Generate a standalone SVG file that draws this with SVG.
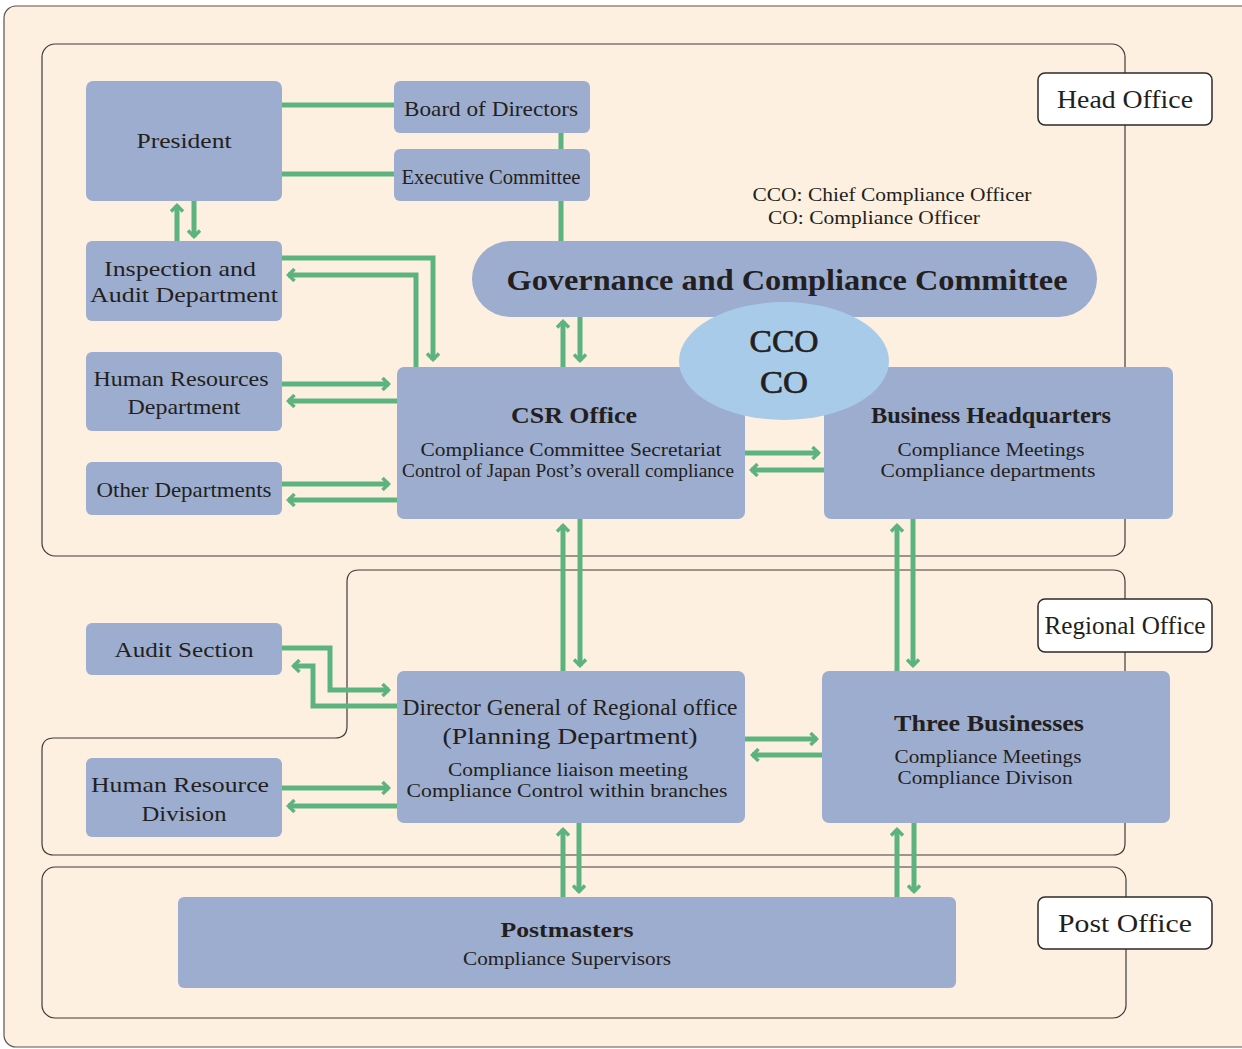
<svg xmlns="http://www.w3.org/2000/svg" width="1242" height="1049" viewBox="0 0 1242 1049">
<defs>
<style>
.bg{fill:#fdf0e1;stroke:#5a5353;stroke-width:1.2}
.region{fill:none;stroke:#3f3a3a;stroke-width:1.2}
.node{fill:#9dadcf}
.lbl{fill:#ffffff;stroke:#2d2a2a;stroke-width:1.5}
.t{font-family:"Liberation Serif","DejaVu Serif",serif;fill:#231f20;text-anchor:middle}
.b{font-weight:bold}
.ln{stroke:#5db37e;stroke-width:5;fill:none}
.ar{stroke:#5db37e;stroke-width:5;fill:none;marker-end:url(#ah)}
</style>
<marker id="ah" viewBox="0 0 10 14" refX="8" refY="7" markerWidth="10" markerHeight="14" orient="auto" markerUnits="userSpaceOnUse">
<path d="M1.5,1 L7.5,7 L1.5,13" fill="none" stroke="#5db37e" stroke-width="3.5"/>
</marker>
</defs>
<rect x="0" y="0" width="1242" height="1049" fill="#ffffff"/>
<rect class="bg" x="4" y="6" width="1260" height="1041" rx="12"/>

<g id="regions">
<rect class="region" x="42" y="44" width="1083" height="512" rx="13"/>
<path class="region" d="M359,570 H1113 Q1125,570 1125,582 V843 Q1125,855 1113,855 H54 Q42,855 42,843 V750 Q42,738 54,738 H335 Q347,738 347,726 V582 Q347,570 359,570 Z"/>
<rect class="region" x="42" y="867" width="1084" height="151" rx="13"/>
</g>

<g id="connectors">
<line class="ln" x1="282" y1="105" x2="394" y2="105"/>
<line class="ln" x1="282" y1="174" x2="394" y2="174"/>
<line class="ln" x1="561" y1="133" x2="561" y2="149"/>
<line class="ln" x1="561" y1="201" x2="561" y2="241"/>
<line class="ar" x1="177" y1="241" x2="177" y2="205"/>
<line class="ar" x1="194" y1="201" x2="194" y2="237"/>
<polyline class="ar" points="282,258 433,258 433,360"/>
<polyline class="ar" points="416,367 416,275 288,275"/>
<line class="ar" x1="563" y1="367" x2="563" y2="321"/>
<line class="ar" x1="580" y1="317" x2="580" y2="361"/>
<line class="ar" x1="282" y1="384" x2="389" y2="384"/>
<line class="ar" x1="397" y1="401" x2="288" y2="401"/>
<line class="ar" x1="282" y1="484" x2="389" y2="484"/>
<line class="ar" x1="397" y1="500" x2="288" y2="500"/>
<line class="ar" x1="745" y1="453" x2="819" y2="453"/>
<line class="ar" x1="824" y1="470" x2="751" y2="470"/>
<line class="ar" x1="563" y1="671" x2="563" y2="525"/>
<line class="ar" x1="580" y1="519" x2="580" y2="666"/>
<line class="ar" x1="897" y1="671" x2="897" y2="525"/>
<line class="ar" x1="913" y1="519" x2="913" y2="666"/>
<polyline class="ar" points="282,648 330,648 330,690 389,690"/>
<polyline class="ar" points="397,706 313,706 313,666 293,666"/>
<line class="ar" x1="282" y1="788" x2="389" y2="788"/>
<line class="ar" x1="397" y1="806" x2="288" y2="806"/>
<line class="ar" x1="745" y1="739" x2="817" y2="739"/>
<line class="ar" x1="822" y1="755" x2="752" y2="755"/>
<line class="ar" x1="563" y1="897" x2="563" y2="829"/>
<line class="ar" x1="579" y1="823" x2="579" y2="892"/>
<line class="ar" x1="897" y1="897" x2="897" y2="829"/>
<line class="ar" x1="914" y1="823" x2="914" y2="892"/>
</g>

<g id="president">
<rect class="node" x="86" y="81" width="196" height="120" rx="7"/>
<text class="t" x="184" y="148" font-size="22" textLength="95" lengthAdjust="spacingAndGlyphs">President</text>
</g>
<g id="board">
<rect class="node" x="394" y="81" width="196" height="52" rx="6"/>
<text class="t" x="491" y="116" font-size="22" textLength="174" lengthAdjust="spacingAndGlyphs">Board of Directors</text>
</g>
<g id="executive">
<rect class="node" x="394" y="149" width="196" height="52" rx="6"/>
<text class="t" x="491" y="184" font-size="22" textLength="179" lengthAdjust="spacingAndGlyphs">Executive Committee</text>
</g>
<g id="inspection">
<rect class="node" x="86" y="241" width="196" height="80" rx="6"/>
<text class="t" x="180" y="276" font-size="21" textLength="152" lengthAdjust="spacingAndGlyphs">Inspection and</text>
<text class="t" x="184" y="302" font-size="21" textLength="188" lengthAdjust="spacingAndGlyphs">Audit Department</text>
</g>
<g id="hr-dept">
<rect class="node" x="86" y="352" width="196" height="79" rx="6"/>
<text class="t" x="181" y="386" font-size="21" textLength="175" lengthAdjust="spacingAndGlyphs">Human Resources</text>
<text class="t" x="184" y="414" font-size="21" textLength="113" lengthAdjust="spacingAndGlyphs">Department</text>
</g>
<g id="other-depts">
<rect class="node" x="86" y="462" width="196" height="53" rx="6"/>
<text class="t" x="184" y="497" font-size="21" textLength="175" lengthAdjust="spacingAndGlyphs">Other Departments</text>
</g>
<g id="governance">
<rect class="node" x="472" y="241" width="625" height="76" rx="38"/>
<text class="t b" x="787" y="290" font-size="30" textLength="561" lengthAdjust="spacingAndGlyphs">Governance and Compliance Committee</text>
</g>
<g id="note">
<text class="t" x="892" y="201" font-size="18" textLength="279" lengthAdjust="spacingAndGlyphs">CCO: Chief Compliance Officer</text>
<text class="t" x="874" y="224" font-size="18" textLength="212" lengthAdjust="spacingAndGlyphs">CO: Compliance Officer</text>
</g>
<g id="csr">
<rect class="node" x="397" y="367" width="348" height="152" rx="7"/>
<text class="t b" x="574" y="423" font-size="24" textLength="126" lengthAdjust="spacingAndGlyphs">CSR Office</text>
<text class="t" x="571" y="456" font-size="18" textLength="301" lengthAdjust="spacingAndGlyphs">Compliance Committee Secretariat</text>
<text class="t" x="568" y="477" font-size="18" textLength="332" lengthAdjust="spacingAndGlyphs">Control of Japan Post’s overall compliance</text>
</g>
<g id="business-hq">
<rect class="node" x="824" y="367" width="349" height="152" rx="7"/>
<text class="t b" x="991" y="423" font-size="24" textLength="240" lengthAdjust="spacingAndGlyphs">Business Headquarters</text>
<text class="t" x="991" y="456" font-size="18" textLength="187" lengthAdjust="spacingAndGlyphs">Compliance Meetings</text>
<text class="t" x="988" y="477" font-size="18" textLength="215" lengthAdjust="spacingAndGlyphs">Compliance departments</text>
</g>
<g id="cco">
<ellipse cx="784" cy="361" rx="105" ry="59" fill="#a9cbea"/>
<text class="t" x="784" y="352" font-size="31" stroke="#231f20" stroke-width="0.7" textLength="69" lengthAdjust="spacingAndGlyphs">CCO</text>
<text class="t" x="784" y="393" font-size="31" stroke="#231f20" stroke-width="0.7" textLength="48" lengthAdjust="spacingAndGlyphs">CO</text>
</g>
<g id="head-office">
<rect class="lbl" x="1038" y="73" width="174" height="52" rx="7"/>
<text class="t" x="1125" y="108" font-size="25" textLength="136" lengthAdjust="spacingAndGlyphs">Head Office</text>
</g>
<g id="audit-section">
<rect class="node" x="86" y="623" width="196" height="52" rx="6"/>
<text class="t" x="184" y="657" font-size="21" textLength="139" lengthAdjust="spacingAndGlyphs">Audit Section</text>
</g>
<g id="hr-division">
<rect class="node" x="86" y="758" width="196" height="79" rx="6"/>
<text class="t" x="180" y="792" font-size="22" textLength="178" lengthAdjust="spacingAndGlyphs">Human Resource</text>
<text class="t" x="184" y="821" font-size="22" textLength="85" lengthAdjust="spacingAndGlyphs">Division</text>
</g>
<g id="director-general">
<rect class="node" x="397" y="671" width="348" height="152" rx="7"/>
<text class="t" x="570" y="715" font-size="23" textLength="335" lengthAdjust="spacingAndGlyphs">Director General of Regional office</text>
<text class="t" x="570" y="744" font-size="23" textLength="255" lengthAdjust="spacingAndGlyphs">(Planning Department)</text>
<text class="t" x="568" y="776" font-size="18" textLength="240" lengthAdjust="spacingAndGlyphs">Compliance liaison meeting</text>
<text class="t" x="567" y="797" font-size="18" textLength="321" lengthAdjust="spacingAndGlyphs">Compliance Control within branches</text>
</g>
<g id="three-businesses">
<rect class="node" x="822" y="671" width="348" height="152" rx="7"/>
<text class="t b" x="989" y="731" font-size="24" textLength="190" lengthAdjust="spacingAndGlyphs">Three Businesses</text>
<text class="t" x="988" y="763" font-size="18" textLength="187" lengthAdjust="spacingAndGlyphs">Compliance Meetings</text>
<text class="t" x="985" y="784" font-size="18" textLength="175" lengthAdjust="spacingAndGlyphs">Compliance Divison</text>
</g>
<g id="regional-office">
<rect class="lbl" x="1038" y="599" width="174" height="53" rx="7"/>
<text class="t" x="1125" y="634" font-size="25" textLength="161" lengthAdjust="spacingAndGlyphs">Regional Office</text>
</g>
<g id="postmasters">
<rect class="node" x="178" y="897" width="778" height="91" rx="6"/>
<text class="t b" x="567" y="937" font-size="22" textLength="133" lengthAdjust="spacingAndGlyphs">Postmasters</text>
<text class="t" x="567" y="965" font-size="18" textLength="208" lengthAdjust="spacingAndGlyphs">Compliance Supervisors</text>
</g>
<g id="post-office">
<rect class="lbl" x="1038" y="897" width="174" height="52" rx="7"/>
<text class="t" x="1125" y="932" font-size="25" textLength="134" lengthAdjust="spacingAndGlyphs">Post Office</text>
</g>
</svg>
